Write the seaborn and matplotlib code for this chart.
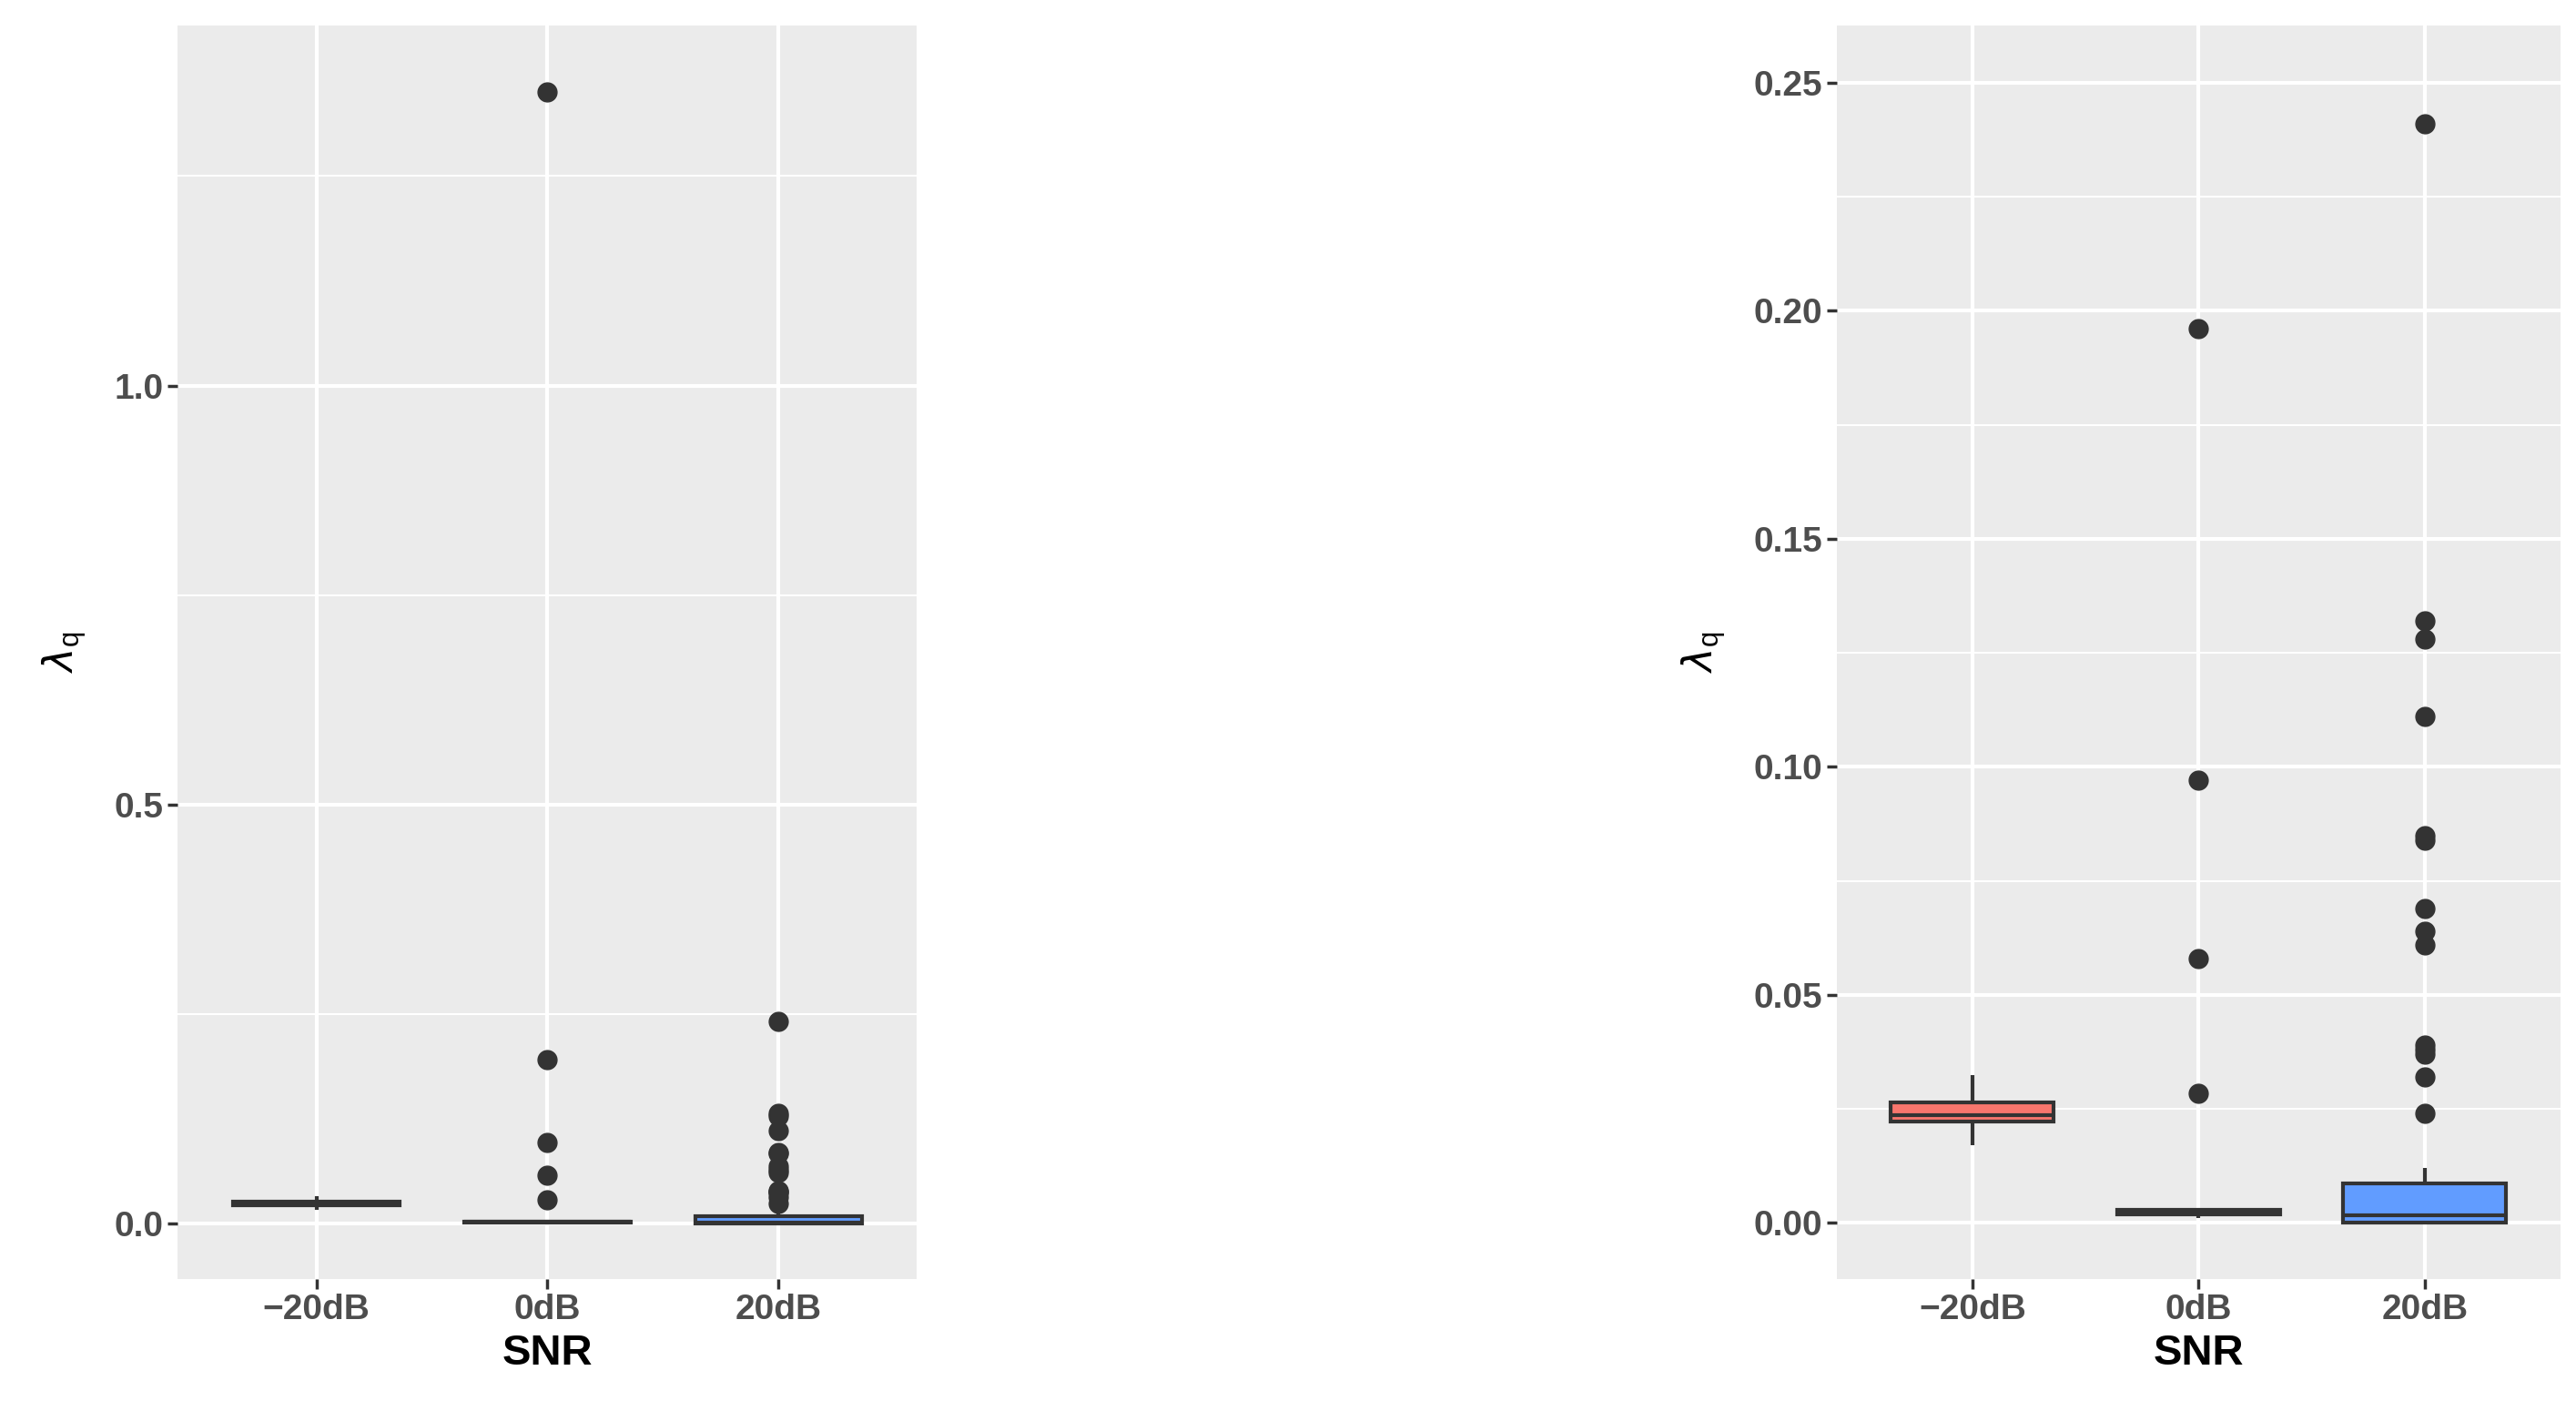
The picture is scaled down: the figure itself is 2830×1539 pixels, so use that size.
import matplotlib
matplotlib.use("Agg")
import matplotlib.pyplot as plt
import seaborn as sns
import pandas as pd

snr_levels = ["\u221220dB", "0dB", "20dB"]
palette = ["#F8766D", "#00BA38", "#619CFF"]

lam_m20 = [0.017, 0.0195, 0.021, 0.022, 0.022, 0.0221, 0.0222, 0.0228, 0.023, 0.0232,
           0.0235, 0.0235, 0.0236, 0.0238, 0.024, 0.025, 0.026, 0.0264, 0.0265, 0.0265,
           0.0266, 0.027, 0.029, 0.0325]
lam_0 = [0.0010, 0.0012, 0.0014, 0.0015, 0.0015, 0.0016, 0.0017, 0.0018, 0.0018, 0.0019,
         0.0020, 0.0020, 0.0020, 0.0021, 0.0021, 0.0022, 0.0022, 0.0023, 0.0023, 0.0024,
         0.0024, 0.0025, 0.0025, 0.0026, 0.0027, 0.0028, 0.0029, 0.0030, 0.0031, 0.0033,
         0.0285, 0.058, 0.097, 0.196, 1.35]
lam_20 = [0.0, 0.0, 0.0, 0.0, 0.0, 0.0, 0.0, 0.0, 0.0, 0.0,
          0.0, 0.0, 0.0, 0.0, 0.0, 0.0, 0.0, 0.0, 0.0, 0.0,
          0.0001, 0.0001, 0.0002, 0.0002, 0.0003, 0.0003, 0.0004, 0.0004, 0.0005, 0.0005,
          0.0006, 0.0007, 0.0008, 0.001, 0.0012, 0.0015, 0.0018, 0.0022, 0.0026, 0.003,
          0.0035, 0.004, 0.0045, 0.005, 0.0055, 0.006, 0.0065, 0.007, 0.0075, 0.0078,
          0.008, 0.0081, 0.0082, 0.0085, 0.009, 0.0095, 0.0105, 0.012,
          0.024, 0.032, 0.037, 0.038, 0.039, 0.061, 0.064, 0.069, 0.084, 0.085,
          0.111, 0.128, 0.132, 0.241]

df = pd.concat([
    pd.DataFrame({"SNR": snr_levels[0], "lam": lam_m20}),
    pd.DataFrame({"SNR": snr_levels[1], "lam": lam_0}),
    pd.DataFrame({"SNR": snr_levels[2], "lam": lam_20}),
])

sns.set_theme(style="darkgrid", rc={"axes.facecolor": "#EBEBEB", "grid.color": "white"})
plt.rcParams["font.family"] = ["Liberation Sans", "DejaVu Sans"]

fig = plt.figure(figsize=(28.3, 15.39), dpi=100)
ax1 = fig.add_axes([0.069, 0.087, 0.287, 0.895])
ax2 = fig.add_axes([0.713, 0.087, 0.281, 0.895])

for ax, ylim, ticks, labels in [
    (ax1, (-0.066, 1.43), [0, 0.5, 1.0], ["0.0", "0.5", "1.0"]),
    (ax2, (-0.0123, 0.2626), [0, 0.05, 0.10, 0.15, 0.20, 0.25],
     ["0.00", "0.05", "0.10", "0.15", "0.20", "0.25"]),
]:
    sns.boxplot(data=df, x="SNR", y="lam", hue="SNR", palette=palette, ax=ax,
                width=0.72, linewidth=3, linecolor="#333333", legend=False,
                saturation=1,
                flierprops=dict(marker="o", markerfacecolor="#333333",
                                markeredgecolor="#333333", markersize=15),
                medianprops=dict(linewidth=3), capprops=dict(linewidth=0))
    ax.set_yticks(ticks)
    ax.set_yticklabels(labels)
    minor = [(a + b) / 2 for a, b in zip(ticks[:-1], ticks[1:])] + [ticks[-1] + (ticks[1] - ticks[0]) / 2]
    ax.set_yticks(minor, minor=True)
    ax.set_ylim(*ylim)
    ax.set_xlim(-0.6, 2.6)
    ax.grid(True, which="major", linewidth=3)
    ax.grid(True, which="minor", linewidth=1.5)
    ax.tick_params(axis="both", which="major", labelsize=28, labelcolor="#4D4D4D",
                   length=8, width=2.5, color="#333333", left=True, bottom=True)
    ax.tick_params(axis="y", which="minor", length=0)
    for t in ax.get_xticklabels() + ax.get_yticklabels():
        t.set_fontweight("bold")
    ax.set_xlabel("SNR", fontsize=34, fontweight="bold", labelpad=6, color="black")
    ax.set_ylabel(r"$\lambda_\mathregular{q}$", fontsize=32, labelpad=20, color="black")
    for s in ax.spines.values():
        s.set_visible(False)

fig.savefig("out.png", dpi=100)
